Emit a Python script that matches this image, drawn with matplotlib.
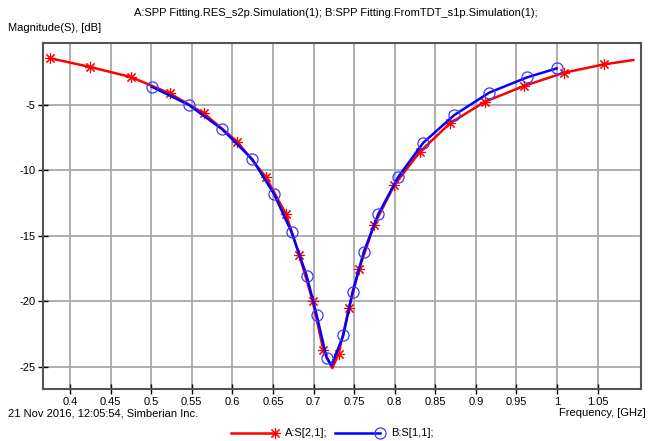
import matplotlib
matplotlib.use("Agg")
import matplotlib.pyplot as plt
from matplotlib.lines import Line2D

# A:S[2,1] (red, asterisks)
freq_a = [0.375, 0.4246, 0.475, 0.523, 0.565, 0.606, 0.641, 0.666, 0.6825, 0.699,
          0.712, 0.723, 0.731, 0.7437, 0.756, 0.7745, 0.7995, 0.831, 0.868, 0.911,
          0.959, 1.0085, 1.058, 1.094]
mag_a = [-1.42, -2.09, -2.86, -4.11, -5.64, -7.8, -10.48, -13.33, -16.47, -20.0,
         -23.7, -25.1, -24.0, -20.5, -17.56, -14.17, -11.12, -8.57, -6.4, -4.75,
         -3.55, -2.53, -1.89, -1.56]
marks_a = [i for i in range(len(freq_a)) if i not in (11, 23)]

# B:S[1,1] (blue, circles)
freq_b = [0.5006, 0.5466, 0.5876, 0.6246, 0.6513, 0.673, 0.6915, 0.7039, 0.716, 0.722,
          0.7367, 0.748, 0.762, 0.7798, 0.8045, 0.8352, 0.8735, 0.9165, 0.9633, 0.9995]
mag_b = [-3.60, -5.0, -6.86, -9.15, -11.8, -14.73, -18.05, -21.06, -24.3, -24.9,
         -22.6, -19.3, -16.2, -13.33, -10.48, -7.88, -5.76, -4.05, -2.88, -2.2]
marks_b = [i for i in range(len(freq_b)) if i != 9]

xticks = [0.4, 0.45, 0.5, 0.55, 0.6, 0.65, 0.7, 0.75, 0.8, 0.85, 0.9, 0.95, 1.0, 1.05]
xticklabels = ["0.4", "0.45", "0.5", "0.55", "0.6", "0.65", "0.7", "0.75", "0.8",
               "0.85", "0.9", "0.95", "1", "1.05"]
yticks = [-5, -10, -15, -20, -25]

plt.rcParams['font.family'] = ['Liberation Sans', 'DejaVu Sans']
plt.rcParams['font.size'] = 8
plt.rcParams['axes.unicode_minus'] = False

fig = plt.figure(figsize=(6.48, 4.41), dpi=100)
W, H = 648, 441
ax = fig.add_axes([43 / W, 1 - 389 / H, (641 - 43) / W, (389 - 43) / H])

star = (8, 2, 0)
ax.plot(freq_a, mag_a, color="red", lw=1.8, marker=star, markevery=marks_a,
        ms=8, mew=0.8, zorder=3)
ax.plot(freq_b, mag_b, color="blue", lw=1.8, marker="o", markevery=marks_b,
        ms=8, mfc="none", mec="#3a3aff", mew=0.9, zorder=4)

ax.set_xlim(0.3667, 1.1034)
ax.set_ylim(-26.7, -0.26)
ax.set_xticks(xticks)
ax.set_xticklabels(xticklabels)
ax.set_yticks(yticks)
ax.grid(True, color="#a8a8a8", lw=1.3)
ax.tick_params(direction="inout", length=7, width=1, color="black", pad=2)
for s in ax.spines.values():
    s.set_color("#555555")
    s.set_linewidth(1.5)

fig.text(336 / W, 1 - 13 / H,
         "A:SPP Fitting.RES_s2p.Simulation(1); B:SPP Fitting.FromTDT_s1p.Simulation(1);",
         ha="center", va="center")
fig.text(8 / W, 1 - 28 / H, "Magnitude(S), [dB]", ha="left", va="center")
fig.text(8 / W, 1 - 413 / H, "21 Nov 2016, 12:05:54, Simberian Inc.", ha="left", va="center")
fig.text(646 / W, 1 - 413 / H, "Frequency, [GHz]", ha="right", va="center")

# legend row
ly = 1 - 433 / H
fig.add_artist(Line2D([231 / W, 275 / W], [ly, ly], color="red", lw=1.8))
fig.add_artist(Line2D([275 / W], [ly], color="red", marker=star, ms=8, mew=0.8))
fig.text(285 / W, ly, "A:S[2,1];", ha="left", va="center")
fig.add_artist(Line2D([335 / W, 380 / W], [ly, ly], color="blue", lw=1.8))
fig.add_artist(Line2D([380 / W], [ly], color="blue", marker="o", ms=8, mfc="none",
                      mec="#3a3aff", mew=0.9))
fig.text(391 / W, ly, "B:S[1,1];", ha="left", va="center")

fig.savefig("out.png", dpi=100)
